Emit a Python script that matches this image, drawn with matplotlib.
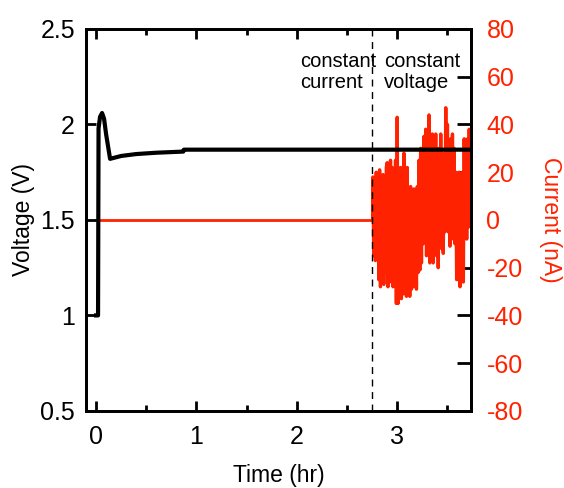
import numpy as np
import matplotlib
matplotlib.use("Agg")
import matplotlib.pyplot as plt

plt.rcParams['font.family'] = ['Liberation Sans', 'DejaVu Sans']
plt.rcParams['axes.unicode_minus'] = False

# Voltage trace (hr, V)
v_time = [0.0, 0.02, 0.025, 0.04, 0.06, 0.08, 0.10, 0.14, 0.25, 0.4, 0.6, 0.87, 0.875, 3.74]
v_vals = [1.0, 1.0, 1.98, 2.04, 2.06, 2.03, 1.95, 1.82, 1.835, 1.845, 1.852, 1.858, 1.868, 1.868]

# Current trace (hr, nA): constant-current part then constant-voltage noise
i_time_cc = [0.0, 2.76]
i_vals_cc = [0.0, 0.0]
i_vals_cv = [18, -15, 12, -17, 20, -10, 15, -25, 21, -28, 10, -20, 19, -27, 16, -22, 22,
             24, -28, 20, -26, 25, -15, 22, -28, 18, -24, 25, -35, 43,
             -35, 20, -30, 22, -33, 15, -31, 28, -25, 18, -32, 22, -30, 12, -32,
             14, -29, 10, -28, 13, -26, 8, -29, 14, -22, 25, -21, 30, -18, 28,
             -10, 35, -8, 38, -15, 30, -12, 44, -18, 33, -10, 36,
             -18, 33, -12, 36, -15, 25, -20, 30, -8, 36, -12, 28, -14, 22, -5, 47,
             3, 40, -5, 28, -11, 34, -2, 36, -8, 30, -10, 20, -25, 18,
             -25, 20, -28, 15, -22, 20, -26, 34, -5, 30, -8, 34, -3, 38, 10, 38, 30]
i_time_cv = np.linspace(2.76, 3.745, len(i_vals_cv))

switch_time = 2.75
red = '#FF2200'

fig = plt.figure(figsize=(5.64, 4.88), dpi=100)
ax = fig.add_axes([0.1525, 0.158, 0.683, 0.7826])
ax2 = ax.twinx()

ax2.plot(i_time_cc, i_vals_cc, color=red, lw=2)
ax2.plot(np.concatenate([[2.76], i_time_cv]), np.concatenate([[0], i_vals_cv]), color=red, lw=2.4)
ax.plot(v_time, v_vals, color='black', lw=3, solid_joinstyle='round')
ax.set_zorder(ax2.get_zorder() + 1)
ax.patch.set_visible(False)
ax.axvline(switch_time, color='black', lw=1, ls=(0, (5, 4)))

ax.set_xlim(-0.1, 3.74)
ax.set_ylim(0.5, 2.5)
ax2.set_ylim(-80, 80)

ax.set_xticks([0, 1, 2, 3])
ax.set_xticks([0.5, 1.5, 2.5, 3.5], minor=True)
ax.set_yticks([0.5, 1, 1.5, 2, 2.5])
ax.set_yticklabels(['0.5', '1', '1.5', '2', '2.5'])
ax2.set_yticks(np.arange(-80, 81, 20))

for a in (ax, ax2):
    for s in a.spines.values():
        s.set_linewidth(2)
ax.tick_params(axis='both', which='major', direction='in', length=7, width=2, labelsize=18, pad=8)
ax.tick_params(axis='x', which='both', top=True)
ax.tick_params(axis='x', which='major', pad=10)
ax.tick_params(axis='x', which='minor', direction='in', length=4, width=2)
ax2.tick_params(axis='y', direction='in', length=10, width=2, labelsize=18, labelcolor=red, pad=11)

ax.set_xlabel('Time (hr)', fontsize=16.5, labelpad=11)
ax.set_ylabel('Voltage (V)', fontsize=16.5, labelpad=4)
ax2.set_ylabel('Current (nA)', fontsize=16.5, color=red, rotation=270, labelpad=28)

ax.text(2.03, 2.38, 'constant\ncurrent', fontsize=14.5, va='top', ha='left', linespacing=1.15)
ax.text(2.87, 2.38, 'constant\nvoltage', fontsize=14.5, va='top', ha='left', linespacing=1.15)

fig.savefig('out.png', dpi=100)
